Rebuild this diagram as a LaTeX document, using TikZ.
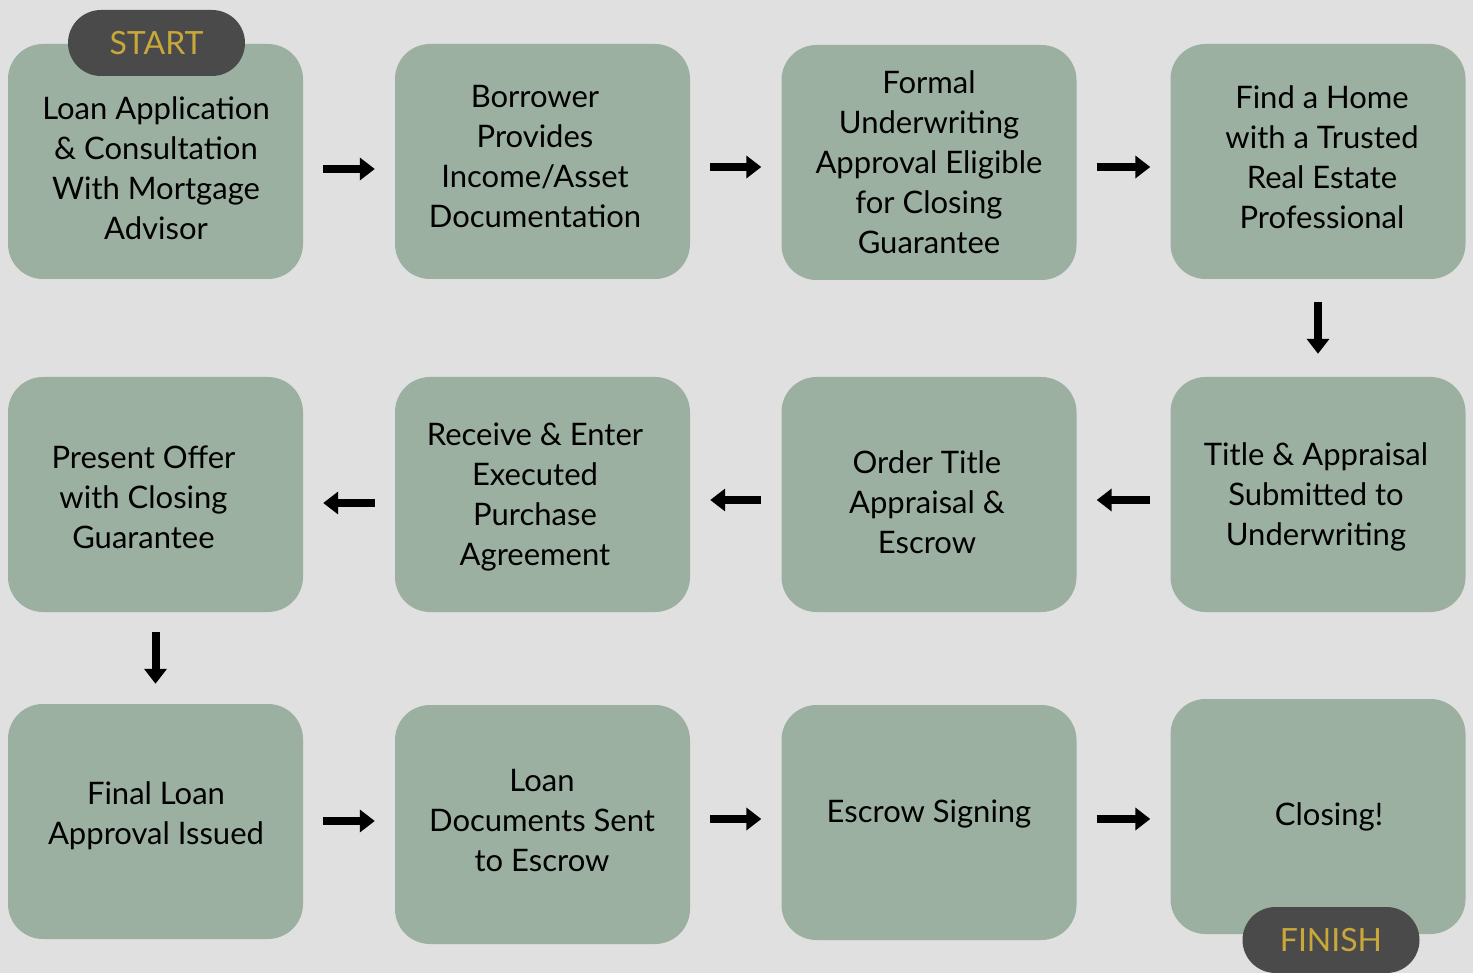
\documentclass[tikz,border=0pt]{standalone}
\usepackage{fontspec}
\setmainfont{Lato}
\usetikzlibrary{arrows.meta}
\definecolor{bgc}{HTML}{E0E0E0}
\definecolor{boxc}{HTML}{9CB0A1}
\definecolor{pillc}{HTML}{4A4A4A}
\definecolor{goldc}{HTML}{C8A83A}
\begin{document}
\begin{tikzpicture}[x=1pt,y=-1pt,
  stepbox/.style={fill=boxc, draw=none, rounded corners=35pt, minimum width=295pt, minimum height=235pt, inner sep=0pt},
  txt/.style={align=center, font=\fontsize{31}{40}\selectfont, text=black, inner sep=0pt},
  pill/.style={fill=pillc, draw=none, rounded corners=33pt, minimum width=177pt, minimum height=66pt, inner sep=0pt, text=goldc, font=\fontsize{32}{34}\selectfont},
  arr/.style={line width=8pt, -{Triangle[length=15pt,width=22pt]}, shorten >=20pt, shorten <=20pt}
]
\path[fill=bgc] (0,0) rectangle (1473,973);
\useasboundingbox (0,0) rectangle (1473,973);
% row 1
\node[stepbox] (b1) at (155.5,161.5) {};
\node[stepbox] (b2) at (542.5,161.5) {};
\node[stepbox] (b3) at (929,162.5) {};
\node[stepbox] (b4) at (1318,161.5) {};
% row 2
\node[stepbox] (b5) at (1318,494.5) {};
\node[stepbox] (b6) at (929,494.5) {};
\node[stepbox] (b7) at (542.5,494.5) {};
\node[stepbox] (b8) at (155.5,494.5) {};
% row 3
\node[stepbox] (b9) at (155.5,821.5) {};
\node[stepbox, minimum height=239pt] (b10) at (542.5,824.5) {};
\node[stepbox] (b11) at (929,822.5) {};
\node[stepbox] (b12) at (1318,816.5) {};
% texts
\node[txt] (t1) at (156,168) {Loan Application\\\& Consultation\\With Mortgage\\Advisor};
\node[txt] (t2) at (535,157) {Borrower\\Provides\\Income/Asset\\Documentation};
\node[txt] (t3) at (929,162) {Formal\\Underwriting\\Approval Eligible\\for Closing\\Guarantee};
\node[txt] (t4) at (1322,157) {Find a Home\\with a Trusted\\Real Estate\\Professional};
\node[txt] (t5) at (1316,497) {Title \& Appraisal\\Submitted to\\Underwriting};
\node[txt] (t6) at (927,502) {Order Title\\Appraisal \&\\Escrow};
\node[txt] (t7) at (535,497) {Receive \& Enter\\Executed\\Purchase\\Agreement};
\node[txt] (t8) at (143.5,497) {Present Offer\\with Closing\\Guarantee};
\node[txt] (t9) at (156,816) {Final Loan\\Approval Issued};
\node[txt] (t10) at (542,821) {Loan\\Documents Sent\\to Escrow};
\node[txt] (t11) at (929,814) {Escrow Signing};
\node[txt] (t12) at (1329,817) {Closing!};
% pills
\node[pill] (start) at (156.5,43) {START};
\node[pill] (finish) at (1331,940) {FINISH};
% arrows
\draw[arr] ([yshift=-7.5pt]b1.east) -- ([yshift=-7.5pt]b2.west);
\draw[arr] ([yshift=-5.5pt]b2.east) -- ([yshift=-4.5pt]b3.west);
\draw[arr] ([yshift=-4.5pt]b3.east) -- ([yshift=-5.5pt]b4.west);
\draw[arr, shorten >=23pt, shorten <=23pt] (b4.south) -- (b5.north);
\draw[arr] ([yshift=-5.5pt]b5.west) -- ([yshift=-5.5pt]b6.east);
\draw[arr] ([yshift=-5.5pt]b6.west) -- ([yshift=-5.5pt]b7.east);
\draw[arr] ([yshift=-8.5pt]b7.west) -- ([yshift=-8.5pt]b8.east);
\draw[arr, shorten >=20pt, shorten <=20pt] (b8.south) -- (b9.north);
\draw[arr] ([yshift=0.5pt]b9.east) -- ([yshift=3.5pt]b10.west);
\draw[arr] ([yshift=5.5pt]b10.east) -- ([yshift=3.5pt]b11.west);
\draw[arr] ([yshift=3.5pt]b11.east) -- ([yshift=-2.5pt]b12.west);
\end{tikzpicture}
\end{document}
